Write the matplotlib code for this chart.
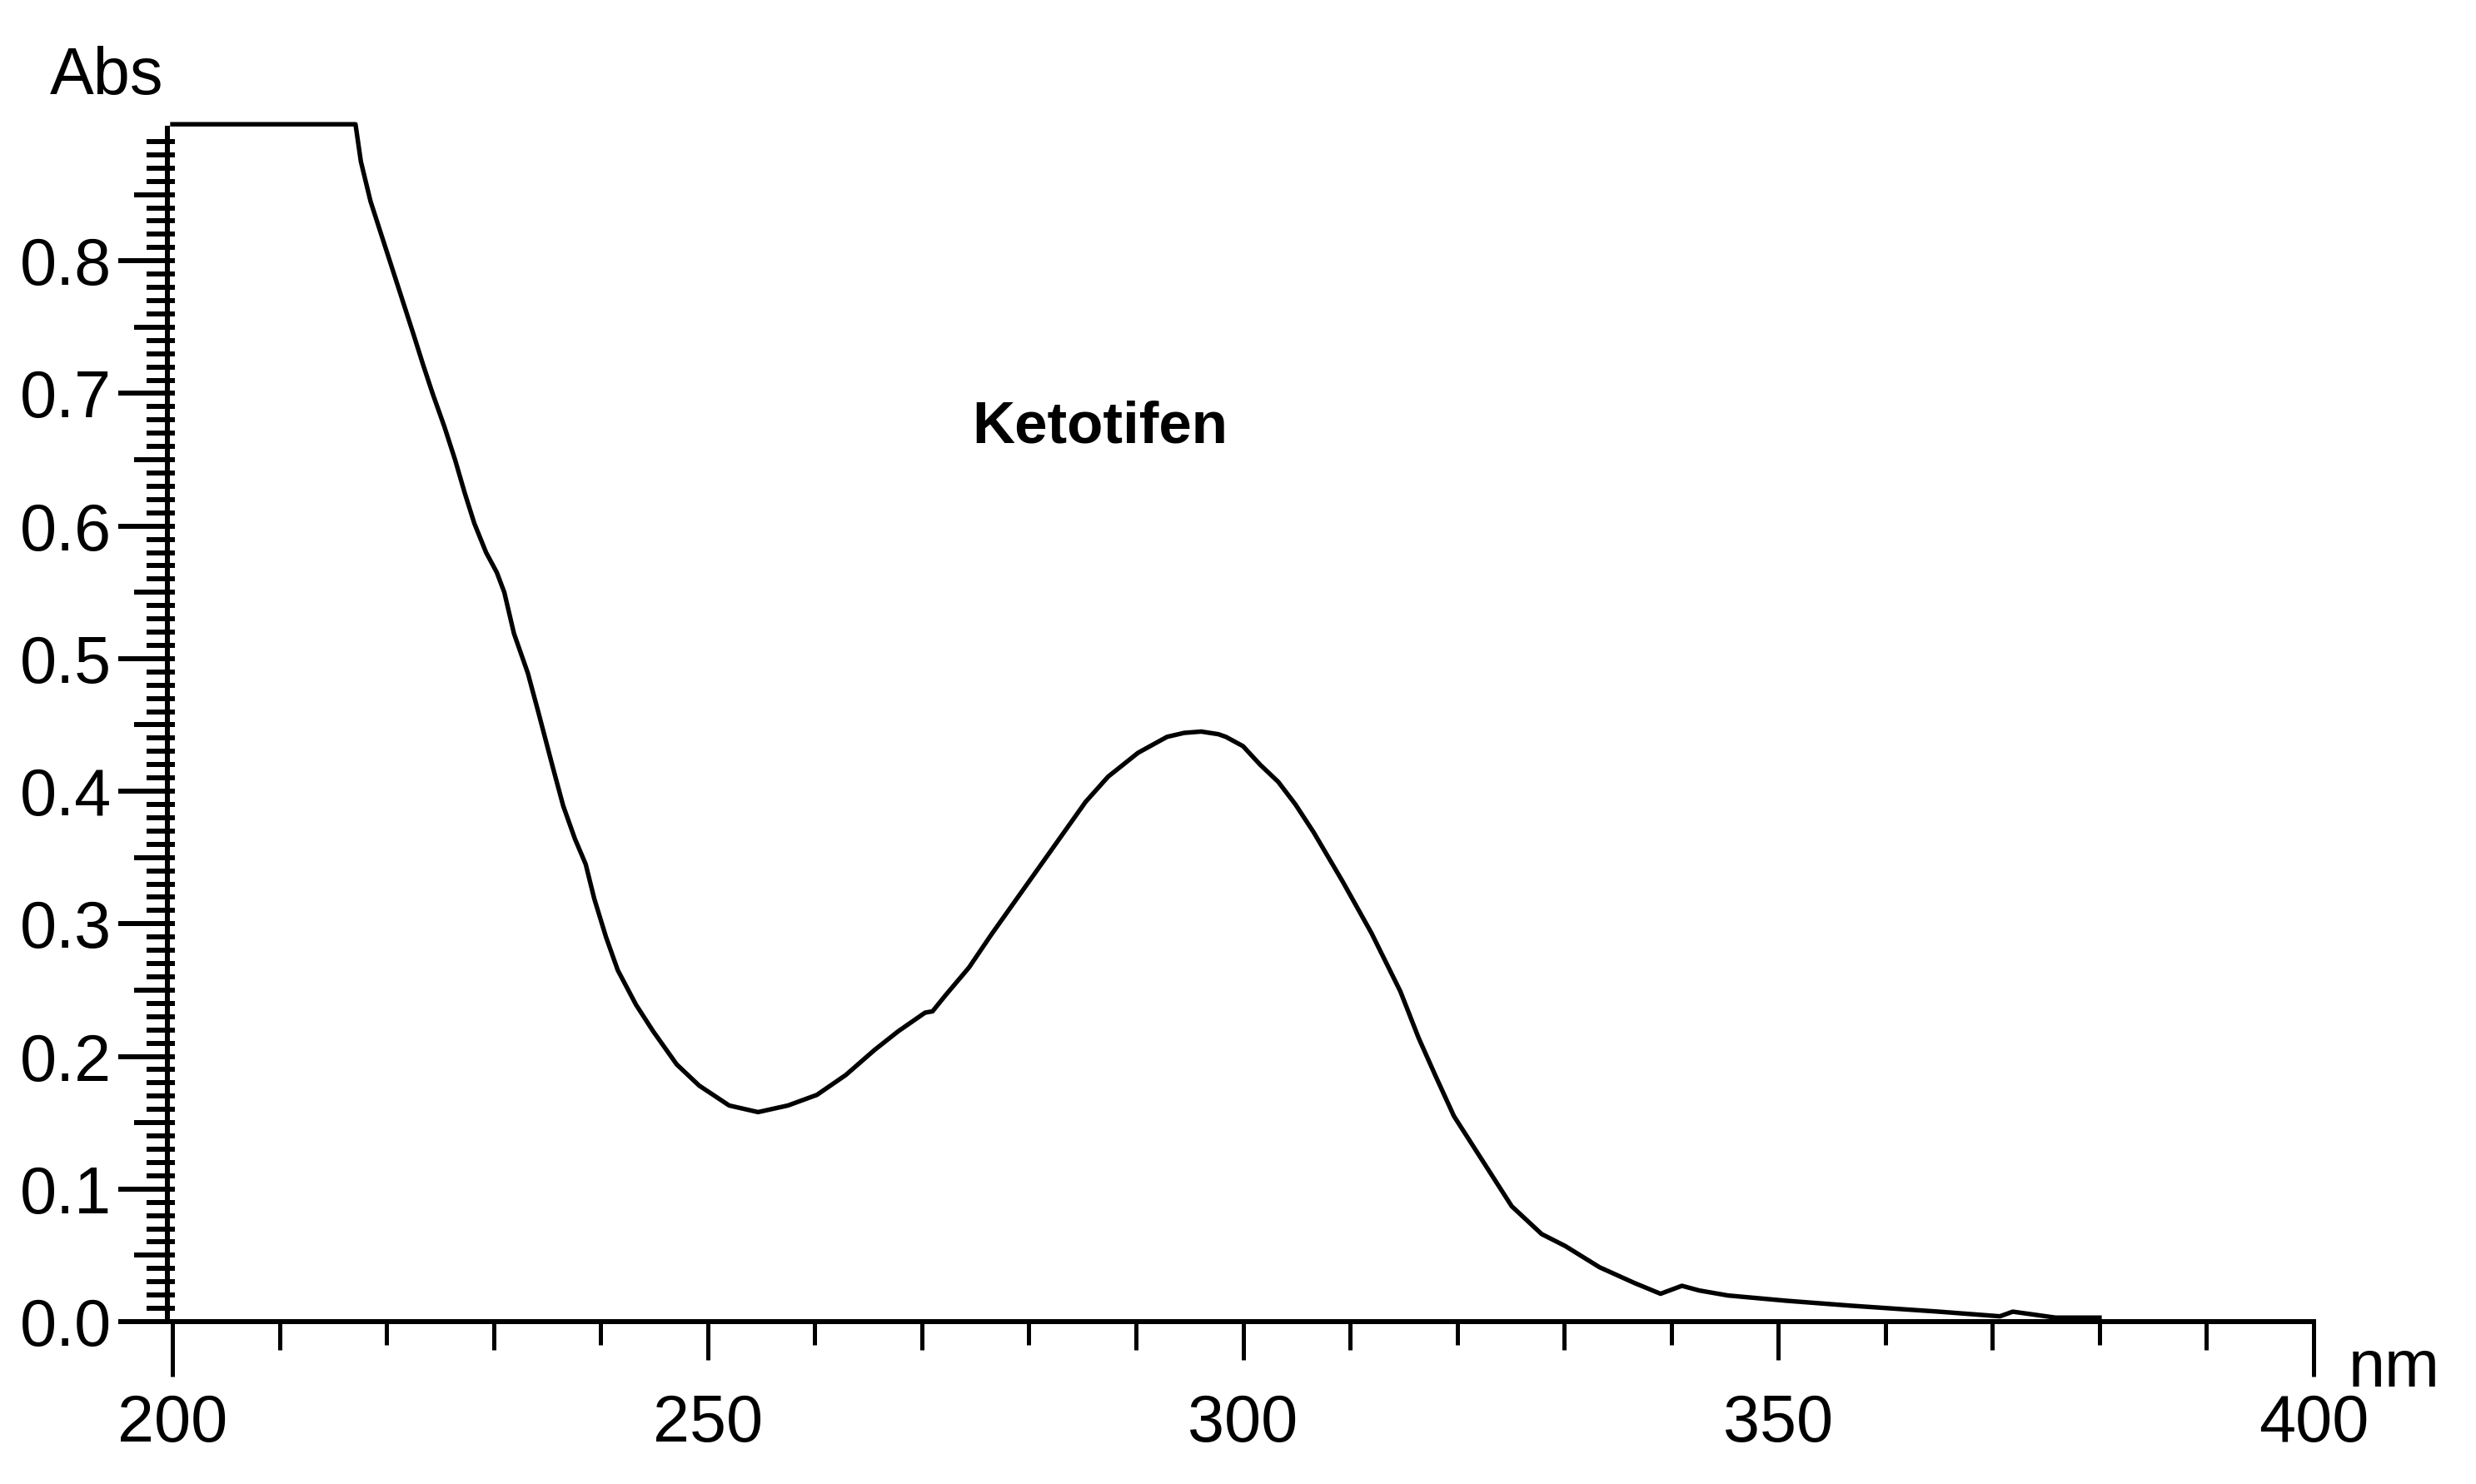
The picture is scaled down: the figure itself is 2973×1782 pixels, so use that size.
import matplotlib
matplotlib.use("Agg")
import matplotlib.pyplot as plt
import numpy as np

# Espectro UV de Ketotifen
wavelength_nm = [200.0, 217.1, 217.6, 218.5, 219.5, 220.5, 221.5, 222.5, 223.4, 224.3,
                 225.4, 226.4, 227.3, 228.2, 229.3, 230.3, 231.0, 231.9, 233.2, 234.2,
                 235.5, 236.5, 237.6, 238.6, 239.4, 240.5, 241.6, 243.3, 244.9, 247.1,
                 249.2, 252.0, 254.7, 257.5, 260.2, 262.9, 265.6, 267.8, 270.3, 271.0,
                 272.2, 274.4, 276.5, 278.7, 280.9, 283.1, 285.3, 287.4, 290.2, 292.9,
                 294.5, 296.1, 297.7, 298.4, 300.0, 301.6, 303.3, 304.9, 306.6, 309.3,
                 312.0, 314.7, 316.4, 318.0, 319.7, 322.4, 325.1, 327.9, 330.1, 333.3,
                 336.6, 339.0, 341.0, 342.6, 345.3, 350.8, 356.8, 365.0, 370.7, 371.9,
                 375.9, 380.0]
absorbance = [0.903, 0.903, 0.875, 0.845, 0.820, 0.795, 0.770, 0.745, 0.722, 0.700,
              0.675, 0.650, 0.625, 0.602, 0.580, 0.565, 0.550, 0.519, 0.489, 0.459,
              0.419, 0.389, 0.364, 0.345, 0.319, 0.290, 0.265, 0.239, 0.219, 0.194,
              0.178, 0.163, 0.158, 0.163, 0.171, 0.186, 0.205, 0.219, 0.233, 0.234,
              0.246, 0.267, 0.292, 0.317, 0.342, 0.367, 0.392, 0.411, 0.429, 0.441,
              0.444, 0.445, 0.443, 0.441, 0.434, 0.420, 0.407, 0.390, 0.369, 0.332,
              0.293, 0.249, 0.214, 0.185, 0.155, 0.121, 0.087, 0.066, 0.057, 0.041,
              0.029, 0.021, 0.027, 0.0235, 0.0197, 0.0157, 0.012, 0.0075, 0.004, 0.0075,
              0.003, 0.003]

x_ticks = list(range(200, 401, 10))
x_labeled = [200, 250, 300, 350, 400]
y_ticks = [i / 100 for i in range(0, 90)]

plt.rcParams["font.family"] = ["Liberation Sans", "DejaVu Sans"]

W, H = 2973, 1782
fig = plt.figure(figsize=(W / 100, H / 100), dpi=100)
# posición de los ejes en píxeles de la imagen original
x0, x1, y_bot, y_top = 201, 2778, 1587, 154
ax = fig.add_axes([x0 / W, 1 - y_bot / H, (x1 - x0) / W, (y_bot - y_top) / H])

ax.plot(wavelength_nm, absorbance, color="black", linewidth=3.9, clip_on=False)

ax.set_xlim(199.53, 400)
ax.set_ylim(0, 0.9)

for side in ("top", "right"):
    ax.spines[side].set_visible(False)
for side in ("left", "bottom"):
    ax.spines[side].set_linewidth(4.3)

ax.set_xticks(x_ticks)
ax.set_xticklabels([str(v) if v in x_labeled else "" for v in x_ticks])
ax.set_yticks(y_ticks)
ax.set_yticklabels([f"{v:.1f}" if int(round(v * 100)) % 10 == 0 else "" for v in y_ticks])

# pequeñas marcas hacia dentro en el eje Y (cruzan ligeramente el eje)
ax.yaxis.remove_overlapping_locs = False
ax.set_yticks(y_ticks, minor=True)

ax.tick_params(axis="x", direction="out", length=33, width=3.6, pad=29, labelsize=57)
ax.tick_params(axis="y", which="major", direction="out", length=42.5, width=4.3, pad=5.5,
               labelsize=57)
ax.tick_params(axis="y", which="minor", direction="in", length=6.5, width=4.3)

# longitudes individuales de las marcas (estilo del software del espectrofotómetro)
for tick, v in zip(ax.xaxis.get_major_ticks(), x_ticks):
    if v in (200, 400):
        size = 47.5
    elif v % 50 == 0:
        size = 33
    elif (v // 10) % 2 == 1:
        size = 24.5
    else:
        size = 20
    tick.tick1line.set_markersize(size)

for tick, v in zip(ax.yaxis.get_major_ticks(), y_ticks):
    k = int(round(v * 100))
    if k % 10 == 0:
        size = 42.5
    elif k % 5 == 0:
        size = 29
    else:
        size = 18
    tick.tick1line.set_markersize(size)

# etiquetas de ejes y nombre del compuesto
ax.text(-0.0283, 1.0286, "Abs", transform=ax.transAxes, ha="center", va="baseline",
        fontsize=57, clip_on=False)
ax.text(1.0376, -0.0544, "nm", transform=ax.transAxes, ha="center", va="baseline",
        fontsize=57, clip_on=False)
ax.text(286.6, 0.6627, "Ketotifen", ha="center", va="baseline", fontsize=51, fontweight="bold")

fig.savefig("out.png", dpi=100)
plt.close(fig)
